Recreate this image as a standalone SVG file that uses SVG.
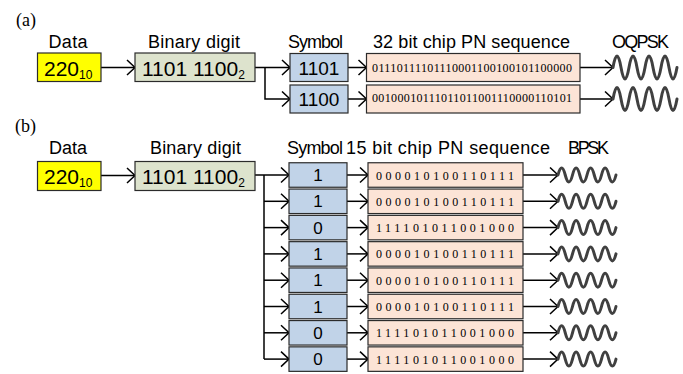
<svg xmlns="http://www.w3.org/2000/svg" xmlns:xlink="http://www.w3.org/1999/xlink" width="683" height="374" viewBox="0 0 683 374">
  <style>
    .box { stroke: #2b2b2b; stroke-width: 1.2; }
    .data { fill: #ffff00; }
    .bin { fill: #dde3cd; }
    .sym { fill: #c1d3e8; }
    .pn { fill: #fce4d6; }
    .lbl { font-family: "Liberation Sans", Arial, sans-serif; font-size: 18px; fill: #000; }
    .big { font-family: "Liberation Sans", Arial, sans-serif; font-size: 21px; fill: #000; }
    .symtxt { font-family: "Liberation Sans", Arial, sans-serif; font-size: 19px; fill: #000; text-anchor: middle; }
    .symtxt-s { font-family: "Liberation Sans", Arial, sans-serif; font-size: 17px; fill: #000; text-anchor: middle; }
    .chip { font-family: "Liberation Serif", "Times New Roman", serif; font-size: 12px; fill: #000; }
    .tag { font-family: "Liberation Serif", "Times New Roman", serif; font-size: 18px; fill: #000; }
    .sub { font-size: 12px; }
    .line { fill: none; stroke: #000; stroke-width: 1.5; }
    .wave { fill: none; stroke: #404040; stroke-width: 3; stroke-linecap: round; }
  </style>
  <defs>
    <marker id="arr" viewBox="0 0 12 17" refX="10" refY="8.5" markerWidth="12" markerHeight="17" markerUnits="userSpaceOnUse" orient="auto">
      <path d="M2 1 L10 8.5 L2 16" fill="none" stroke="#000" stroke-width="1.5"/>
    </marker>
    <!-- carrier waveforms -->
    <path id="wave-oqpsk" class="wave" d="M0 0q4 -23 8 0t8 0t8 0t8 0t8 0t8 0t8 0t8 0"/>
    <path id="wave-bpsk" class="wave" d="M0 0q3.6 -14 7.25 0t7.25 0t7.25 0t7.25 0t7.25 0t7.25 0t7.25 0t7.25 0"/>
  </defs>

  <!-- panel tags -->
  <text class="tag" x="16" y="26">(a)</text>
  <text class="tag" x="15" y="132">(b)</text>

  <!-- column headings -->
  <g id="labels">
    <text class="lbl" x="48.5" y="48" textLength="39">Data</text>
    <text class="lbl" x="148" y="48" textLength="92">Binary digit</text>
    <text class="lbl" x="288" y="48" textLength="55">Symbol</text>
    <text class="lbl" x="373" y="48" textLength="197">32 bit chip PN sequence</text>
    <text class="lbl" x="612" y="48" textLength="57">OQPSK</text>

    <text class="lbl" x="49" y="154" textLength="38">Data</text>
    <text class="lbl" x="150" y="154" textLength="91">Binary digit</text>
    <text class="lbl" x="287" y="154" textLength="56">Symbol</text>
    <text class="lbl" x="346" y="154" textLength="204">15 bit chip PN sequence</text>
    <text class="lbl" x="568" y="154" textLength="41">BPSK</text>
  </g>

  <!-- connectors -->
  <g id="connectors">
    <!-- (a) -->
    <path class="line" d="M101 67.5H135" marker-end="url(#arr)"/>
    <path class="line" d="M255 67.5H290" marker-end="url(#arr)"/>
    <path class="line" d="M265 67.5V99H290" marker-end="url(#arr)"/>
    <path class="line" d="M348 67.5H366.5" marker-end="url(#arr)"/>
    <path class="line" d="M348 99H366.5" marker-end="url(#arr)"/>
    <path class="line" d="M580 67.5H613" marker-end="url(#arr)"/>
    <path class="line" d="M580 99H613" marker-end="url(#arr)"/>

    <!-- (b) -->
    <path class="line" d="M101 175.5H135" marker-end="url(#arr)"/>
    <path class="line" d="M255 175H289" marker-end="url(#arr)"/>
    <path class="line" d="M264 175V359.1"/>
    <path class="line" d="M264 201.3H289" marker-end="url(#arr)"/>
    <path class="line" d="M264 227.6H289" marker-end="url(#arr)"/>
    <path class="line" d="M264 253.9H289" marker-end="url(#arr)"/>
    <path class="line" d="M264 280.2H289" marker-end="url(#arr)"/>
    <path class="line" d="M264 306.5H289" marker-end="url(#arr)"/>
    <path class="line" d="M264 332.8H289" marker-end="url(#arr)"/>
    <path class="line" d="M264 359.1H289" marker-end="url(#arr)"/>

    <path class="line" d="M347 175H368" marker-end="url(#arr)"/>
    <path class="line" d="M347 201.3H368" marker-end="url(#arr)"/>
    <path class="line" d="M347 227.6H368" marker-end="url(#arr)"/>
    <path class="line" d="M347 253.9H368" marker-end="url(#arr)"/>
    <path class="line" d="M347 280.2H368" marker-end="url(#arr)"/>
    <path class="line" d="M347 306.5H368" marker-end="url(#arr)"/>
    <path class="line" d="M347 332.8H368" marker-end="url(#arr)"/>
    <path class="line" d="M347 359.1H368" marker-end="url(#arr)"/>

    <path class="line" d="M523 175H558" marker-end="url(#arr)"/>
    <path class="line" d="M523 201.3H558" marker-end="url(#arr)"/>
    <path class="line" d="M523 227.6H558" marker-end="url(#arr)"/>
    <path class="line" d="M523 253.9H558" marker-end="url(#arr)"/>
    <path class="line" d="M523 280.2H558" marker-end="url(#arr)"/>
    <path class="line" d="M523 306.5H558" marker-end="url(#arr)"/>
    <path class="line" d="M523 332.8H558" marker-end="url(#arr)"/>
    <path class="line" d="M523 359.1H558" marker-end="url(#arr)"/>
  </g>

  <!-- ===== (a) 4-bit symbols, 32-chip sequences ===== -->
  <g id="a-data">
    <rect class="box data" x="37.5" y="53" width="63.5" height="28.5"/>
    <text class="big" x="44" y="75.5">220<tspan class="sub" dy="3">10</tspan></text>
  </g>
  <g id="a-binary">
    <rect class="box bin" x="135" y="53" width="120" height="28.5"/>
    <text class="big" x="142" y="75.5">1101 1100<tspan class="sub" dy="3">2</tspan></text>
  </g>
  <g id="a-sym1">
    <rect class="box sym" x="290" y="53.5" width="58" height="28"/>
    <text class="symtxt" x="319" y="74.5">1101</text>
  </g>
  <g id="a-sym2">
    <rect class="box sym" x="290" y="85" width="58" height="28"/>
    <text class="symtxt" x="319" y="106">1100</text>
  </g>
  <g id="a-pn1">
    <rect class="box pn" x="366.5" y="53.5" width="213.5" height="28"/>
    <text class="chip" x="372" y="72" textLength="200" lengthAdjust="spacing">01110111101110001100100101100000</text>
  </g>
  <g id="a-pn2">
    <rect class="box pn" x="366.5" y="85" width="213.5" height="28"/>
    <text class="chip" x="372" y="101.5" textLength="200" lengthAdjust="spacing">00100010111011011001110000110101</text>
  </g>
  <g id="a-wave1"><use xlink:href="#wave-oqpsk" x="613" y="67.5"/></g>
  <g id="a-wave2"><use xlink:href="#wave-oqpsk" x="613" y="99"/></g>

  <!-- ===== (b) 1-bit symbols, 15-chip sequences ===== -->
  <g id="b-data">
    <rect class="box data" x="37.5" y="161.5" width="63.5" height="29"/>
    <text class="big" x="44" y="184">220<tspan class="sub" dy="3">10</tspan></text>
  </g>
  <g id="b-binary">
    <rect class="box bin" x="135" y="161.5" width="120" height="29"/>
    <text class="big" x="142" y="184">1101 1100<tspan class="sub" dy="3">2</tspan></text>
  </g>

  <g id="b-sym1"><rect class="box sym" x="289" y="162.75" width="58" height="24.5"/><text class="symtxt-s" x="318" y="181">1</text></g>
  <g id="b-sym2"><rect class="box sym" x="289" y="189.05" width="58" height="24.5"/><text class="symtxt-s" x="318" y="207.3">1</text></g>
  <g id="b-sym3"><rect class="box sym" x="289" y="215.35" width="58" height="24.5"/><text class="symtxt-s" x="318" y="233.6">0</text></g>
  <g id="b-sym4"><rect class="box sym" x="289" y="241.65" width="58" height="24.5"/><text class="symtxt-s" x="318" y="259.9">1</text></g>
  <g id="b-sym5"><rect class="box sym" x="289" y="267.95" width="58" height="24.5"/><text class="symtxt-s" x="318" y="286.2">1</text></g>
  <g id="b-sym6"><rect class="box sym" x="289" y="294.25" width="58" height="24.5"/><text class="symtxt-s" x="318" y="312.5">1</text></g>
  <g id="b-sym7"><rect class="box sym" x="289" y="320.55" width="58" height="24.5"/><text class="symtxt-s" x="318" y="338.8">0</text></g>
  <g id="b-sym8"><rect class="box sym" x="289" y="346.85" width="58" height="24.5"/><text class="symtxt-s" x="318" y="365.1">0</text></g>

  <g id="b-pn1"><rect class="box pn" x="368" y="162.75" width="155" height="24.5"/><text class="chip" x="376" y="179.5" textLength="138" lengthAdjust="spacing">000010100110111</text></g>
  <g id="b-pn2"><rect class="box pn" x="368" y="189.05" width="155" height="24.5"/><text class="chip" x="376" y="205.8" textLength="138" lengthAdjust="spacing">000010100110111</text></g>
  <g id="b-pn3"><rect class="box pn" x="368" y="215.35" width="155" height="24.5"/><text class="chip" x="376" y="232.1" textLength="138" lengthAdjust="spacing">111101011001000</text></g>
  <g id="b-pn4"><rect class="box pn" x="368" y="241.65" width="155" height="24.5"/><text class="chip" x="376" y="258.4" textLength="138" lengthAdjust="spacing">000010100110111</text></g>
  <g id="b-pn5"><rect class="box pn" x="368" y="267.95" width="155" height="24.5"/><text class="chip" x="376" y="284.7" textLength="138" lengthAdjust="spacing">000010100110111</text></g>
  <g id="b-pn6"><rect class="box pn" x="368" y="294.25" width="155" height="24.5"/><text class="chip" x="376" y="311" textLength="138" lengthAdjust="spacing">000010100110111</text></g>
  <g id="b-pn7"><rect class="box pn" x="368" y="320.55" width="155" height="24.5"/><text class="chip" x="376" y="337.3" textLength="138" lengthAdjust="spacing">111101011001000</text></g>
  <g id="b-pn8"><rect class="box pn" x="368" y="346.85" width="155" height="24.5"/><text class="chip" x="376" y="363.6" textLength="138" lengthAdjust="spacing">111101011001000</text></g>

  <g id="b-waves">
    <use xlink:href="#wave-bpsk" x="558" y="175"/>
    <use xlink:href="#wave-bpsk" x="558" y="201.3"/>
    <use xlink:href="#wave-bpsk" x="558" y="227.6"/>
    <use xlink:href="#wave-bpsk" x="558" y="253.9"/>
    <use xlink:href="#wave-bpsk" x="558" y="280.2"/>
    <use xlink:href="#wave-bpsk" x="558" y="306.5"/>
    <use xlink:href="#wave-bpsk" x="558" y="332.8"/>
    <use xlink:href="#wave-bpsk" x="558" y="359.1"/>
  </g>
</svg>
